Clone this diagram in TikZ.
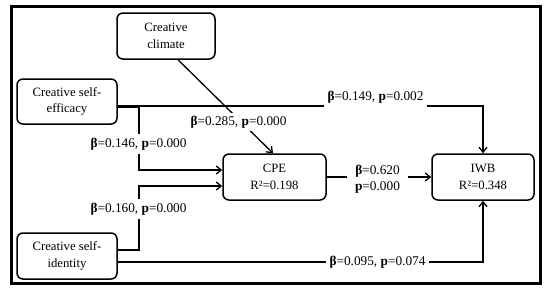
\documentclass[tikz,border=0pt]{standalone}
\usepackage{fontspec}
\setmainfont{Liberation Serif}
\usetikzlibrary{arrows.meta}
\tikzset{
  box/.style={draw, line width=1.5pt, rounded corners=6pt, align=center,
    font=\fontsize{12.7}{16.5}\selectfont, inner sep=2pt},
  lbl/.style={fill=white, inner sep=3.5pt, font=\fontsize{13.3}{15.5}\selectfont, align=center},
  conn/.style={line width=1.3pt},
  arr/.style={conn, -{Straight Barb[length=5pt,width=8pt,line width=1.3pt]}},
}
\newcommand{\bb}{\textbf{β}}
\newcommand{\pp}{\textbf{p}}
\begin{document}
\begin{tikzpicture}[x=1pt,y=-1pt]
\useasboundingbox (0,0) rectangle (550,292);
\draw[line width=3pt] (11,6) rectangle (540,283);

\node[box, minimum width=98pt, minimum height=46pt] (climate) at (166,36) {Creative\\climate};
\node[box, minimum width=100pt, minimum height=45pt] (efficacy) at (67,101.5) {Creative self-\\efficacy};
\node[box, minimum width=100pt, minimum height=46pt] (identity) at (67,256) {Creative self-\\identity};
\node[box, minimum width=103pt, minimum height=46pt] (cpe) at (274.5,177) {CPE\\R²=0.198};
\node[box, minimum width=102pt, minimum height=46pt] (iwb) at (483,177) {IWB\\R²=0.348};

\coordinate (j1) at (139,170);
\coordinate (j2) at (139,186);

% connectors
\draw[arr] ([yshift=-4.5pt]efficacy.east) -| (iwb.north);
\draw[arr] ([yshift=-5.5pt]efficacy.east) -| (j1) -- (j1 -| cpe.west);
\draw[arr] ([yshift=6pt]identity.east) -| (j2) -- (j2 -| cpe.west);
\draw[arr] ([yshift=-6pt]identity.east) -| (iwb.south);
\draw[arr] ([xshift=12pt]climate.south) -- ([xshift=-1.5pt]cpe.north);
\draw[arr] (cpe.east) -- (iwb.west);

% labels
\node[lbl] (l149) at (375.5,97) {\bb=0.149, \pp=0.002};
\node[lbl] (l146) at (138.5,144) {\bb=0.146, \pp=0.000};
\node[lbl] (l160) at (138.5,209) {\bb=0.160, \pp=0.000};
\node[lbl] (l095) at (377.5,262) {\bb=0.095, \pp=0.074};
\node[lbl, inner sep=3pt] (l285) at (238.5,122) {\bb=0.285, \pp=0.000};
\node[lbl, inner xsep=8pt] (l620) at (377.5,179) {\bb=0.620\\\pp=0.000};
\end{tikzpicture}
\end{document}
